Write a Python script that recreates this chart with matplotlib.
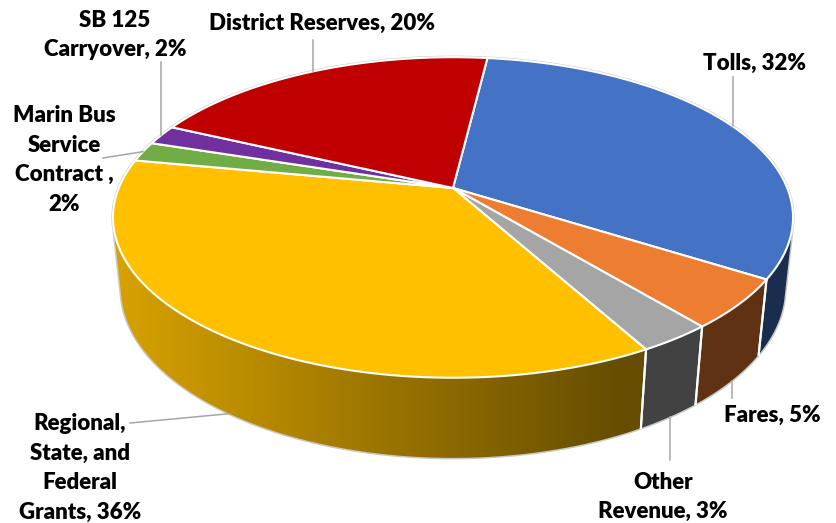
import numpy as np
import matplotlib.pyplot as plt
from matplotlib.patches import Polygon
from matplotlib.colors import to_rgb

# revenue sources, clockwise from the top of the pie
names = ['Tolls', 'Fares', 'Other\nRevenue', 'Regional,\nState, and\nFederal\nGrants',
         'Marin Bus\nService\nContract ', 'SB 125\nCarryover', 'District Reserves']
shares = [32, 5, 3, 36, 2, 2, 20]
seps = [', ', ', ', ', ', ', ', ',\n', ', ', ', ']
colors = ['#4472C4', '#ED7D31', '#A5A5A5', '#FFC000', '#70AD47', '#7030A0', '#C00000']

# label centres (pixels) and where each leader line ends
label_xy = [(755, 63), (772, 415), (663, 497), (80, 468), (64, 160), (115, 35), (322, 23)]
leader_to = [77, 398, 460, (130, 423), (103, 158), 62, 40]   # number = vertical up/down to that y

plt.rcParams['font.family'] = ['Lato', 'DejaVu Sans']

# camera for the tilted disc
cx, cy = 453, 188
f, D = 1611, 4.82
elev = np.radians(27.6)
ce, se = np.cos(elev), np.sin(elev)
thick = 0.242
start = 7.0


def project(phi_deg, z):
    phi = np.radians(phi_deg)
    x, y = np.sin(phi), np.cos(phi)
    up = y * se + z * ce
    depth = D + y * ce - z * se
    return cx + f * x / depth, cy - f * up / depth


bounds = start + np.concatenate([[0], np.cumsum(shares)]) * 3.6
# part of the outer wall that faces the camera
lim = np.degrees(np.arccos(-1 / (D * ce)))
vis0, vis1 = lim, 360 - lim

fig = plt.figure(figsize=(8.37, 5.23), dpi=100)
ax = fig.add_axes([0, 0, 1, 1])
ax.set_xlim(0, 837)
ax.set_ylim(523, 0)
ax.axis('off')

# faint outline round the whole pie
back = np.linspace(vis1, vis0 + 360, 300)
front = np.linspace(vis0, vis1, 200)
ox, oy = project(back, 0)
bx, by = project(front, -thick)
ax.plot(np.r_[ox, bx, ox[0]], np.r_[oy, by, oy[0]], color='#C8C8C8', lw=2.2, zorder=1)

# outer wall: darkens from left to right
gx = np.arange(0, 837)
k = np.clip(0.83 - (gx - 130) * 0.00088, 0.40, 0.86)
for i in range(len(shares)):
    a, b = max(bounds[i], vis0), min(bounds[i + 1], vis1)
    if a >= b:
        continue
    ph = np.linspace(a, b, 200)
    tx, ty = project(ph, 0)
    bx, by = project(ph[::-1], -thick)
    wall = Polygon(np.column_stack([np.r_[tx, bx], np.r_[ty, by]]), closed=True,
                   facecolor='none', edgecolor='none')
    ax.add_patch(wall)
    grad = np.tile((k[:, None] * np.array(to_rgb(colors[i])))[None, :, :], (2, 1, 1))
    im = ax.imshow(grad, extent=(0, 837, 523, 0), aspect='auto', interpolation='bilinear', zorder=2)
    im.set_clip_path(wall)
    for p in (a, b):
        if vis0 < p < vis1:
            x0, y0 = project(p, 0)
            x1, y1 = project(p, -thick)
            ax.plot([x0, x1], [y0, y1], color='white', lw=1.5, zorder=2.5)

ax.set_xlim(0, 837)
ax.set_ylim(523, 0)

# top faces
for i in range(len(shares)):
    ph = np.linspace(bounds[i], bounds[i + 1], 200)
    tx, ty = project(ph, 0)
    pts = np.column_stack([np.r_[cx, tx], np.r_[cy, ty]])
    ax.add_patch(Polygon(pts, closed=True, facecolor=colors[i], edgecolor='white', lw=1.5, zorder=3))

# labels and leader lines
for i in range(len(shares)):
    mid = (bounds[i] + bounds[i + 1]) / 2
    z = -thick if vis0 < mid < vis1 else 0
    sx, sy = project(mid, z)
    end = leader_to[i]
    ex, ey = (sx, end) if np.isscalar(end) else end
    ax.plot([sx, ex], [sy, ey], color='#A6A6A6', lw=1.1, zorder=4)
    ax.text(label_xy[i][0], label_xy[i][1], names[i] + seps[i] + f'{shares[i]}%',
            ha='center', va='center', multialignment='center',
            fontsize=16, fontweight='heavy', color='black', linespacing=1.5, zorder=5)

fig.savefig('out.png', dpi=100, facecolor='white')
